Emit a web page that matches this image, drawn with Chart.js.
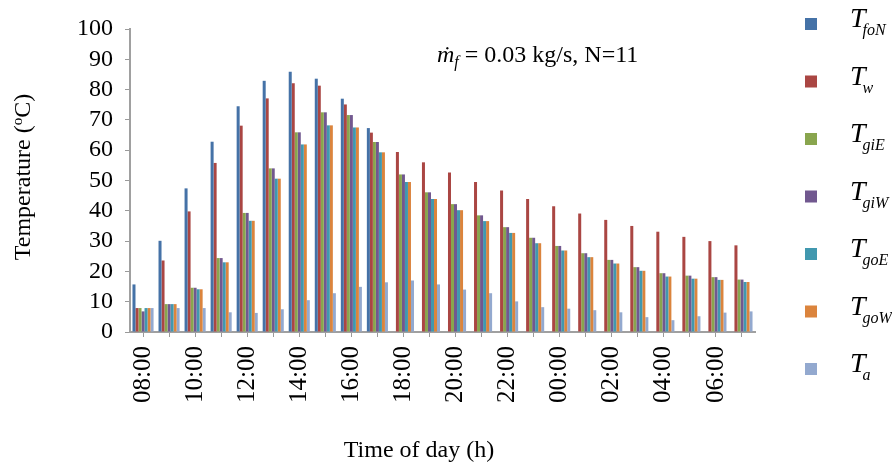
<!DOCTYPE html>
<html>
<head>
<meta charset="utf-8">
<script src="https://cdn.jsdelivr.net/npm/chart.js@4/dist/chart.umd.min.js"></script>
<style>
html,body{margin:0;padding:0;background:#fff;}
#wrap{width:892px;height:464px;position:relative;}
</style>
</head>
<body>
<div id="wrap"><canvas id="c" width="892" height="464"></canvas></div>
<script>
const hours = ['08:00','09:00','10:00','11:00','12:00','13:00','14:00','15:00','16:00','17:00','18:00','19:00',
               '20:00','21:00','22:00','23:00','00:00','01:00','02:00','03:00','04:00','05:00','06:00','07:00'];
const TfoN = [15.7,30.1,47.4,62.8,74.5,82.9,85.9,83.6,77.0,67.3,null,null,null,null,null,null,null,null,null,null,null,null,null,null];
const Tw   = [7.9,23.6,39.8,55.8,68.1,77.1,82.1,81.3,75.1,65.8,59.4,56.0,52.6,49.5,46.7,43.9,41.5,39.1,37.0,35.0,33.1,31.4,30.0,28.6];
const TgiE = [7.9,9.2,14.6,24.4,39.3,54.0,65.9,72.5,71.6,62.7,52.0,46.1,42.2,38.5,34.6,31.1,28.4,26.0,23.8,21.4,19.4,18.6,18.1,17.3];
const TgiW = [6.8,9.2,14.6,24.4,39.3,54.0,65.9,72.5,71.6,62.7,52.0,46.1,42.2,38.5,34.6,31.1,28.4,26.0,23.8,21.4,19.4,18.6,18.1,17.3];
const TgoE = [7.9,9.2,14.1,23.0,36.7,50.6,61.9,68.2,67.5,59.3,49.5,43.9,40.2,36.6,32.7,29.3,26.9,24.7,22.6,20.2,18.3,17.6,17.2,16.5];
const TgoW = [7.9,9.2,14.1,23.0,36.7,50.6,61.9,68.2,67.5,59.3,49.5,43.9,40.2,36.6,32.7,29.3,26.9,24.7,22.6,20.2,18.3,17.6,17.2,16.5];
const Ta   = [7.9,7.9,7.9,6.5,6.3,7.5,10.5,12.8,14.9,16.4,17.0,15.7,14.0,12.8,10.1,8.2,7.7,7.2,6.5,4.9,3.9,5.2,6.4,6.8];
const seriesSubs = ['foN','w','giE','giW','goE','goW','a'];
const seriesColors = ['#4572A7','#AA4643','#89A54E','#71588F','#4198AF','#DB843D','#93A9CF'];
const seriesData = [TfoN,Tw,TgiE,TgiW,TgoE,TgoW,Ta];

const SERIF = '"Liberation Serif","Times New Roman",serif';

const overlay = {
  id:'overlay',
  afterDraw(chart){
    const ctx = chart.ctx;
    ctx.save();
    ctx.fillStyle = '#000';
    ctx.textAlign = 'left';
    ctx.textBaseline = 'alphabetic';
    // Legend
    chart.data.datasets.forEach((ds,i)=>{
      const cy = 24 + i*57.5;
      ctx.fillStyle = ds.backgroundColor;
      ctx.fillRect(805, cy-6, 12, 12);
      ctx.fillStyle = '#000';
      ctx.font = 'italic 28px ' + SERIF;
      ctx.fillText('T', 850, cy+3);
      const w = ctx.measureText('T').width;
      ctx.font = 'italic 16px ' + SERIF;
      ctx.fillText(seriesSubs[i], 850 + w - 3, cy+11);
    });
    // Annotation
    let x = 437;
    const by = 62;
    ctx.font = 'italic 24px ' + SERIF;
    ctx.fillText('\u1E41', x, by);
    x += ctx.measureText('\u1E41').width;
    ctx.font = 'italic 16px ' + SERIF;
    ctx.fillText('f', x, by+5);
    x += ctx.measureText('f').width;
    ctx.font = '24px ' + SERIF;
    ctx.fillText(' = 0.03 kg/s, N=11', x, by);
    // X title
    ctx.font = '24px ' + SERIF;
    ctx.textAlign = 'center';
    ctx.fillText('Time of day (h)', 419, 457);
    // Y title
    ctx.save();
    ctx.translate(30, 177);
    ctx.rotate(-Math.PI/2);
    ctx.textAlign = 'left';
    const p1 = 'Temperature (', p2 = 'o', p3 = 'C)';
    ctx.font = '24px ' + SERIF;
    const w1 = ctx.measureText(p1).width, w3 = ctx.measureText(p3).width;
    ctx.font = '15px ' + SERIF;
    const w2 = ctx.measureText(p2).width;
    const tot = w1 + w2 + w3;
    let sx = -tot/2;
    ctx.font = '24px ' + SERIF;
    ctx.fillText(p1, sx, 0); sx += w1;
    ctx.font = '15px ' + SERIF;
    ctx.fillText(p2, sx, -8); sx += w2;
    ctx.font = '24px ' + SERIF;
    ctx.fillText(p3, sx, 0);
    ctx.restore();
    ctx.restore();
  }
};

new Chart(document.getElementById('c'), {
  type:'bar',
  data:{
    labels: hours,
    datasets: seriesData.map((d,i)=>({
      label: 'T' + seriesSubs[i],
      data: d,
      backgroundColor: seriesColors[i],
      borderWidth: 0,
      barPercentage: 1.0,
      categoryPercentage: 0.81
    }))
  },
  options:{
    responsive:false,
    animation:false,
    devicePixelRatio:1,
    layout:{padding:{top:29,right:137,left:0,bottom:0}},
    plugins:{legend:{display:false},tooltip:{enabled:false}},
    scales:{
      x:{
        offset:true,
        grid:{display:true,drawOnChartArea:false,offset:false,tickLength:5,color:'#9a9a9a',lineWidth:1},
        border:{display:true,color:'#a0a0a0',width:2},
        ticks:{autoSkip:false,maxRotation:90,minRotation:90,padding:9,color:'#000',
               font:{family:SERIF,size:25},
               callback:(v,i)=> (i%2===0 ? hours[i] : '')},
        afterFit:(s)=>{s.height=132;}
      },
      y:{
        min:0,max:100,
        grid:{display:true,drawOnChartArea:false,tickLength:5,color:'#9a9a9a'},
        border:{display:true,color:'#a0a0a0',width:2},
        ticks:{stepSize:10,autoSkip:false,padding:12,color:'#000',font:{family:SERIF,size:24}},
        afterFit:(s)=>{s.width=130;}
      }
    }
  },
  plugins:[overlay]
});
</script>
</body>
</html>
